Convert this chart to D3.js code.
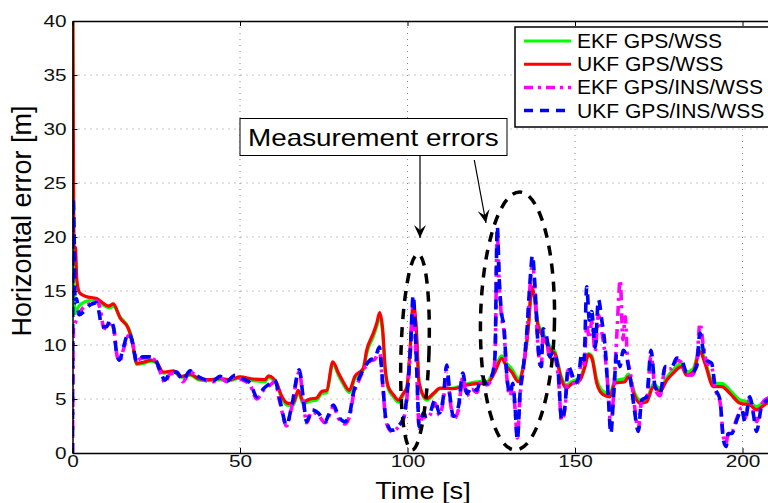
<!DOCTYPE html>
<html>
<head>
<meta charset="utf-8">
<script src="https://cdn.jsdelivr.net/npm/d3@7"></script>
<style>
    body { margin: 0; background: #fff; }
    svg { display: block; font-family: "Liberation Sans", Arial, Helvetica, sans-serif; }
</style>
</head>
<body>
<svg id="chart" width="768" height="503"></svg>
<script>
// [time (s), horizontal error (m)]
const ekfGpsWss = [
    [0, 44], [0.4, 16], [0.7, 12.9], [1.7, 13.5], [3.7, 14.0], [7.2, 14.2], [9.2, 13.7], [11.2, 13.45],
    [12.2, 13.6], [14.2, 12.6], [16.7, 11.6], [17.7, 10.7], [19.2, 8.2], [21.1, 8.3], [23.6, 8.5],
    [25.1, 8.3], [27.1, 7.4], [30.1, 7.5], [32.6, 7.0], [35.1, 7.2], [38, 6.75], [41, 6.7], [44, 6.8],
    [47, 6.7], [50, 6.95], [54, 6.7], [57.5, 6.6], [58.5, 7.0], [60, 6.75], [61, 6.3], [62.4, 5.1],
    [64.4, 4.4], [65.9, 4.45], [67.4, 5.6], [68.9, 4.55], [70.9, 4.8], [72.9, 4.9], [74.4, 5.5],
    [75.9, 5.6], [77.7, 8.25], [79.4, 7.2], [80.8, 6.4], [82.6, 5.6], [84.3, 6.9], [86.8, 7.65],
    [87.8, 9.2], [89.8, 10.8], [90.8, 11.7], [91.7, 12.6], [92.6, 11.1], [93.3, 7.8], [94.3, 5.9],
    [95.8, 5.2], [97.3, 4.7], [98.7, 5.3], [99.8, 5.9], [100.7, 9.0], [101.7, 13.6], [102.5, 11.9],
    [103.5, 6.3], [105.7, 4.9], [107.7, 5.4], [109.7, 5.95], [113.7, 6.0], [117.7, 6.4], [121.6, 6.6],
    [123.6, 6.6], [126.1, 7.8], [128.1, 9.0], [129.6, 8.3], [131.1, 7.8], [133.1, 6.9], [134.6, 8.2],
    [136.1, 11.8], [137.1, 15.2], [137.8, 14.6], [139, 12.0], [140.5, 11.1], [142.5, 9.9], [144, 9.4],
    [146, 7.0], [147.5, 6.3], [149, 6.6], [151.5, 7.0], [153, 8.2], [154, 9.2], [155, 9.0], [156.5, 6.8],
    [158.4, 5.7], [160.4, 5.5], [161.9, 6.7], [164.9, 6.9], [165.9, 7.3], [167.9, 5.5], [169.4, 4.9],
    [171.4, 5.0], [173.4, 6.4], [175.4, 6.0], [177.4, 7.0], [179.3, 7.7], [181.8, 8.3], [183.3, 7.5],
    [185.3, 7.8], [187.3, 9.7], [188.8, 8.6], [191.3, 6.45], [193.8, 6.45], [196.3, 5.8], [199.3, 4.9],
    [202.2, 4.7], [204.2, 4.3], [207.2, 4.9], [210, 5.2]
];

const ukfGpsWss = [
    [0, 48], [0.4, 19.2], [0.9, 19.0], [1.3, 16], [2.2, 14.8], [4, 14.5], [7.2, 14.3], [9, 13.9],
    [10.7, 13.6], [12.2, 13.8], [14.2, 12.5], [16.7, 11.5], [17.7, 10.5], [19.2, 8.3], [21.1, 8.4],
    [23.6, 8.6], [25.1, 8.4], [27.1, 7.5], [30.1, 7.6], [32.6, 7.1], [35.1, 7.3], [38, 6.85], [41, 6.8],
    [44, 6.9], [47, 6.8], [50, 7.05], [54, 6.85], [57.5, 6.8], [58.5, 7.15], [60, 6.9], [61, 6.45],
    [62.4, 5.3], [64.4, 4.6], [65.9, 4.65], [67.4, 5.8], [68.9, 4.75], [70.9, 5.0], [72.9, 5.1],
    [74.4, 5.7], [75.9, 5.8], [77.7, 8.45], [79.4, 7.4], [80.8, 6.6], [82.6, 5.8], [84.3, 7.1],
    [86.8, 7.85], [87.8, 9.5], [89.8, 11.1], [90.8, 12.0], [91.7, 13.0], [92.6, 11.4], [93.3, 8.0],
    [94.3, 6.1], [95.8, 5.4], [97.3, 4.9], [98.7, 5.5], [99.8, 6.1], [100.7, 9.2], [101.7, 13.8],
    [102.5, 12.1], [103.5, 6.45], [105.7, 5.05], [107.7, 5.5], [109.7, 6.0], [113.7, 5.95], [117.7, 6.3],
    [121.6, 6.45], [123.6, 6.4], [126.1, 7.5], [128.1, 8.75], [129.6, 8.0], [131.1, 7.5], [133.1, 6.6],
    [134.6, 8.0], [136.1, 11.7], [137.1, 15.4], [137.8, 14.5], [139, 11.7], [140.5, 10.8], [142.5, 9.6],
    [144, 9.2], [146, 6.75], [147.5, 6.0], [149, 6.4], [151.5, 6.75], [153, 8.0], [154, 9.1], [155, 8.8],
    [156.5, 6.45], [158.4, 5.4], [160.4, 5.2], [161.9, 6.45], [164.9, 6.6], [165.9, 7.05], [167.9, 5.2],
    [169.4, 4.6], [171.4, 4.75], [173.4, 6.15], [175.4, 5.7], [177.4, 6.75], [179.3, 7.4], [181.8, 8.0],
    [183.3, 7.2], [185.3, 7.5], [187.3, 9.4], [188.8, 8.3], [191.3, 6.15], [193.8, 6.15], [196.3, 5.5],
    [199.3, 4.6], [202.2, 4.45], [204.2, 4.0], [207.2, 4.6], [210, 4.9]
];

const ekfGpsInsWss = [
    [0, 0], [0.3, 11.5], [1, 12.2], [3, 13.4], [5, 13.8], [7.2, 14.1], [8.3, 13.3], [9.3, 11.6],
    [10.4, 11.5], [11.4, 12.1], [12.4, 11.4], [13.3, 9.0], [14.1, 8.5], [15.3, 9.7], [16.8, 10.9],
    [17.8, 10.3], [19.3, 8.6], [21, 8.8], [23.1, 8.8], [24.6, 8.6], [26.2, 7.5], [27.6, 6.5], [29.1, 7.3],
    [31.1, 7.4], [32.9, 6.6], [35.1, 7.5], [37.1, 7.1], [40.1, 6.7], [42, 6.6], [44, 7.0], [46, 6.6],
    [48.5, 7.0], [50.5, 6.8], [53, 6.3], [55, 5.0], [57, 5.8], [59, 6.3], [60.4, 6.6], [61.9, 4.7],
    [63.9, 2.5], [65.4, 4.2], [67.7, 7.5], [68.9, 4.8], [69.9, 2.8], [71.4, 3.8], [73.4, 3.5], [75.4, 2.8],
    [76.4, 3.3], [77.9, 4.3], [79.4, 3.2], [81.3, 2.7], [82.8, 3.5], [83.8, 5.3], [85.3, 6.6], [87.3, 7.9],
    [88.8, 8.5], [90.3, 8.7], [91.6, 9.6], [92.6, 6.3], [93.6, 2.9], [95.3, 2.0], [97.3, 2.4], [98.7, 3.0],
    [99.8, 5.0], [100.9, 9.5], [101.7, 13.8], [102.7, 8.0], [103.5, 2.3], [104.7, 3.5], [105.7, 3.2],
    [106.7, 3.5], [108.2, 4.6], [109.5, 3.5], [110.7, 4.9], [111.7, 7.6], [112.7, 5.0], [113.7, 3.1],
    [115.2, 4.0], [116.5, 7.0], [117.7, 5.3], [119.2, 5.9], [120.7, 5.6], [122.1, 6.8], [123.6, 6.3],
    [125.1, 6.9], [126.1, 8.6], [126.8, 20.3], [127.4, 15.5], [128.1, 12.5], [128.8, 11.3], [129.6, 7.2],
    [130.6, 5.3], [131.4, 6.2], [132.1, 4.1], [132.8, 1.4], [133.6, 5.3], [134.6, 7.8], [135.6, 10.8],
    [136.6, 15.5], [137.3, 17.6], [138.1, 14.8], [139, 9.6], [139.9, 7.8], [140.5, 11.0], [141.5, 10.5],
    [142.5, 8.6], [143.5, 9.1], [145, 7.1], [146, 3.0], [147, 4.1], [148, 7.7], [149, 7.1], [150, 6.2],
    [151, 6.6], [152, 8.6], [152.7, 8.2], [153.5, 11.8], [154.3, 10.6], [155, 12.2], [156, 9.4],
    [157, 12.8], [158, 11.2], [159, 9.0], [160, 5.4], [160.7, 2.4], [161.5, 5.4], [162.5, 11.0],
    [163.5, 16.0], [164.3, 10.5], [165, 12.6], [165.6, 9.0], [166.6, 7.3], [167.6, 4.8], [168.9, 2.2],
    [169.9, 4.8], [171.4, 5.0], [172.7, 9.0], [173.9, 6.0], [175.4, 5.3], [176.9, 7.8], [178.9, 7.8],
    [180.4, 8.6], [181.8, 8.4], [183.3, 7.3], [184.8, 7.2], [186.3, 8.2], [187.3, 12.0], [188.3, 10.0],
    [189.3, 8.4], [190.8, 8.0], [191.8, 6.0], [193.3, 4.7], [194.3, 1.5], [195.1, 0.9], [195.8, 2.0],
    [196.8, 2.0], [198.3, 3.2], [199.8, 4.2], [200.7, 3.2], [202.2, 5.0], [203.2, 3.9], [204.2, 2.9],
    [205.7, 4.5], [207.7, 5.1], [210, 5.2]
];

const ukfGpsInsWss = [
    [0, 0], [0.2, 23.5], [0.5, 20], [0.8, 13.9], [1.2, 14.3], [2, 12.8], [3.7, 13.2], [5.2, 13.7],
    [7.2, 13.9], [8, 12.9], [8.7, 11.7], [10.2, 11.7], [11.2, 12.3], [12.2, 11.7], [13.2, 9.2], [14, 8.6],
    [15.2, 9.8], [16.7, 11.1], [17.7, 10.5], [19.2, 8.45], [21, 8.9], [23.1, 8.9], [24.6, 8.75],
    [26.1, 7.65], [27.6, 6.75], [29.1, 7.4], [31.1, 7.5], [32.9, 6.75], [35.1, 7.6], [37.1, 7.15],
    [40.1, 6.75], [42, 6.7], [44, 7.1], [46, 6.65], [48.5, 7.2], [50.5, 6.9], [53, 6.5], [55, 5.2],
    [57, 5.95], [59, 6.45], [60.4, 6.75], [61.9, 4.9], [63.9, 2.6], [65.4, 4.3], [67.7, 7.7], [68.9, 5.0],
    [69.9, 2.9], [71.4, 4.0], [73.4, 3.7], [75.4, 2.9], [76.4, 3.5], [77.9, 4.45], [79.4, 3.4], [81.3, 2.9],
    [82.8, 3.7], [83.8, 5.5], [85.3, 6.75], [87.3, 8.0], [88.8, 8.6], [90.3, 8.8], [91.6, 9.8], [92.6, 6.45],
    [93.6, 3.05], [95.3, 2.1], [97.3, 2.5], [98.7, 3.2], [99.8, 5.2], [100.9, 9.8], [101.7, 14.6],
    [102.7, 8.3], [103.5, 2.45], [104.7, 3.7], [105.7, 3.4], [106.7, 3.7], [108.2, 4.9], [109.5, 3.7],
    [110.7, 5.2], [111.7, 8.15], [112.7, 5.2], [113.7, 3.4], [115.2, 4.3], [116.5, 7.4], [117.7, 5.5],
    [119.2, 6.1], [120.7, 5.8], [122.1, 7.05], [123.6, 6.45], [125.1, 7.05], [126.1, 8.9], [126.8, 21],
    [127.4, 16.0], [128.1, 12.9], [128.8, 11.7], [129.6, 7.4], [130.6, 5.5], [131.4, 6.45], [132.1, 4.3],
    [132.8, 1.2], [133.6, 5.5], [134.6, 8.0], [135.6, 11.1], [136.6, 16.0], [137.3, 18.3], [138.1, 15.1],
    [139, 9.8], [139.9, 8.0], [140.5, 11.5], [141.5, 10.8], [142.5, 8.9], [143.5, 9.4], [145, 7.4],
    [146, 3.05], [147, 4.3], [148, 8.0], [149, 7.4], [150, 6.45], [151, 6.9], [152, 9.2], [152.7, 8.6],
    [153.5, 15.4], [154.3, 12.3], [155, 13.1], [156, 9.8], [157, 14.2], [158, 12.3], [159, 9.8], [160, 4.9],
    [160.7, 1.8], [161.5, 5.2], [162.5, 9.2], [163.4, 8.0], [164.4, 9.5], [165.6, 8.6], [166.6, 6.75],
    [167.6, 4.3], [168.9, 2.0], [169.9, 4.9], [171.4, 5.2], [172.7, 9.5], [173.9, 6.15], [175.4, 5.5],
    [176.9, 8.0], [178.9, 8.0], [180.4, 8.8], [181.8, 8.6], [183.3, 7.5], [184.8, 7.4], [186.3, 8.0],
    [187.3, 11.1], [188.3, 9.5], [189.3, 8.6], [190.8, 8.3], [191.8, 6.15], [193.3, 4.9], [194.3, 1.2],
    [195.1, 0.6], [195.8, 1.8], [196.8, 1.8], [198.3, 3.05], [199.8, 4.0], [200.7, 2.9], [202.2, 5.2],
    [203.2, 3.7], [204.2, 2.0], [205.7, 4.3], [207.7, 4.9], [210, 5.0]
];

const seriesNames = ["EKF GPS/WSS", "UKF GPS/WSS", "EKF GPS/INS/WSS", "UKF GPS/INS/WSS"];
const seriesColours = ["#00ff00", "#ff0000", "#ff00ff", "#0000ff"];
const seriesDashes = [null, null, "10,5,3,5", "10,7"];
const xTicks = [0, 50, 100, 150, 200];
const yTicks = [0, 5, 10, 15, 20, 25, 30, 35, 40];

const svg = d3.select("#chart");
const plotLeft = 72.5, plotTop = 21, plotBottom = 453;
// axes box runs past the right edge of the picture, as in the original
const plotRight = 72.5 + 3.35 * 210;

const x = d3.scaleLinear().domain([0, 210]).range([plotLeft, plotRight]);
const y = d3.scaleLinear().domain([0, 40]).range([plotBottom, plotTop]);

// squeeze/stretch text horizontally to match the exported figure
const stretch = (sel, k) => {
    sel.each(function () {
        const w = this.getComputedTextLength();
        d3.select(this).attr("textLength", w * k).attr("lengthAdjust", "spacingAndGlyphs");
    });
};

svg.append("defs")
    .append("clipPath")
    .attr("id", "plotClip")
    .append("rect")
    .attr("x", plotLeft)
    .attr("y", plotTop)
    .attr("width", plotRight - plotLeft)
    .attr("height", plotBottom - plotTop);

// dotted grid
const grid = svg.append("g").attr("stroke", "#8a8a8a").attr("stroke-width", 1).attr("stroke-dasharray", "1,5");
grid.selectAll(".gx")
    .data(xTicks.filter((d) => d > 0))
    .join("line")
    .attr("class", "gx")
    .attr("x1", (d) => x(d)).attr("x2", (d) => x(d))
    .attr("y1", plotTop).attr("y2", plotBottom);
grid.selectAll(".gy")
    .data(yTicks.filter((d) => d > 0 && d < 40))
    .join("line")
    .attr("class", "gy")
    .attr("x1", plotLeft).attr("x2", plotRight)
    .attr("y1", (d) => y(d)).attr("y2", (d) => y(d));

// lines
const line = d3.line()
    .x((d) => x(d[0]))
    .y((d) => y(d[1]))
    .curve(d3.curveMonotoneX);

const allSeries = [ekfGpsWss, ukfGpsWss, ekfGpsInsWss, ukfGpsInsWss];
svg.append("g")
    .attr("clip-path", "url(#plotClip)")
    .selectAll("path")
    .data(allSeries)
    .join("path")
    .attr("d", line)
    .attr("fill", "none")
    .attr("stroke", (d, i) => seriesColours[i])
    .attr("stroke-width", (d, i) => (i < 2 ? 3.2 : 3.6))
    .attr("stroke-dasharray", (d, i) => seriesDashes[i])
    .attr("stroke-linejoin", "round");

// axes
const xAxis = svg.append("g")
    .attr("transform", `translate(0,${plotBottom})`)
    .call(d3.axisBottom(x).tickValues(xTicks).tickSizeInner(-5).tickSizeOuter(0).tickPadding(2));
const yAxis = svg.append("g")
    .attr("transform", `translate(${plotLeft},0)`)
    .call(d3.axisLeft(y).tickValues(yTicks).tickSizeInner(-5).tickSizeOuter(0).tickPadding(6));
svg.append("g")
    .attr("transform", `translate(0,${plotTop})`)
    .call(d3.axisTop(x).tickValues(xTicks).tickSizeInner(-5).tickSizeOuter(0).tickFormat(""));

[xAxis, yAxis].forEach((g) => {
    g.selectAll(".tick line").attr("stroke", "#000");
    g.selectAll("text").attr("fill", "#111").attr("font-size", 16)
        .attr("font-family", "Liberation Sans, Arial, sans-serif");
    stretch(g.selectAll("text"), 1.3);
});
xAxis.selectAll("text").attr("dy", "0.74em");
svg.selectAll(".domain").attr("stroke", "#000").attr("stroke-width", 1.5);

svg.append("text")
    .attr("x", 423)
    .attr("y", 499)
    .attr("text-anchor", "middle")
    .attr("font-size", 24)
    .text("Time [s]")
    .call(stretch, 1.13);

svg.append("text")
    .attr("transform", "translate(31,221) rotate(-90)")
    .attr("text-anchor", "middle")
    .attr("font-size", 27)
    .text("Horizontal error [m]");

// annotation: ellipses + arrows
const notes = svg.append("g");
notes.append("ellipse")
    .attr("transform", "translate(415,352) rotate(1.8)")
    .attr("rx", 14).attr("ry", 98);
notes.append("ellipse")
    .attr("transform", "translate(517.5,321) rotate(1)")
    .attr("rx", 37).attr("ry", 129);
notes.selectAll("ellipse")
    .attr("fill", "none")
    .attr("stroke", "#000")
    .attr("stroke-width", 3.5)
    .attr("stroke-dasharray", "10,8");

const arrows = [
    [420, 156, 420, 238],
    [474.3, 160, 486, 223]
];
arrows.forEach(([x1, y1, x2, y2]) => {
    notes.append("line")
        .attr("x1", x1).attr("y1", y1).attr("x2", x2).attr("y2", y2)
        .attr("stroke", "#000").attr("stroke-width", 1.2);
    const ang = (Math.atan2(y2 - y1, x2 - x1) * 180) / Math.PI - 90;
    notes.append("path")
        .attr("d", "M0,0 L-6,-13 L0,-8 L6,-13 Z")
        .attr("transform", `translate(${x2},${y2}) rotate(${ang})`)
        .attr("fill", "#000");
});

notes.append("rect")
    .attr("x", 240).attr("y", 118.5)
    .attr("width", 267).attr("height", 37)
    .attr("fill", "#fff")
    .attr("stroke", "#000")
    .attr("stroke-width", 1);
notes.append("text")
    .attr("x", 248)
    .attr("y", 146)
    .attr("font-size", 24)
    .text("Measurement errors")
    .call(stretch, 1.16);

// legend
const legend = svg.append("g").attr("transform", "translate(515,27)");
legend.append("rect")
    .attr("width", 270).attr("height", 100)
    .attr("fill", "#fff")
    .attr("stroke", "#000")
    .attr("stroke-width", 1.5);
const item = legend.selectAll(".item")
    .data(seriesNames)
    .join("g")
    .attr("class", "item")
    .attr("transform", (d, i) => `translate(0,${14 + i * 23.2})`);
item.append("line")
    .attr("x1", 9).attr("x2", 56)
    .attr("stroke", (d, i) => seriesColours[i])
    .attr("stroke-width", (d, i) => (i < 2 ? 3 : 3.5))
    .attr("stroke-dasharray", (d, i) => (i === 2 ? "9,5,3,5" : i === 3 ? "9,7" : null));
item.append("text")
    .attr("x", 62)
    .attr("y", 7)
    .attr("font-size", 19.5)
    .text((d) => d)
    .call(stretch, 1.08);
</script>
</body>
</html>
